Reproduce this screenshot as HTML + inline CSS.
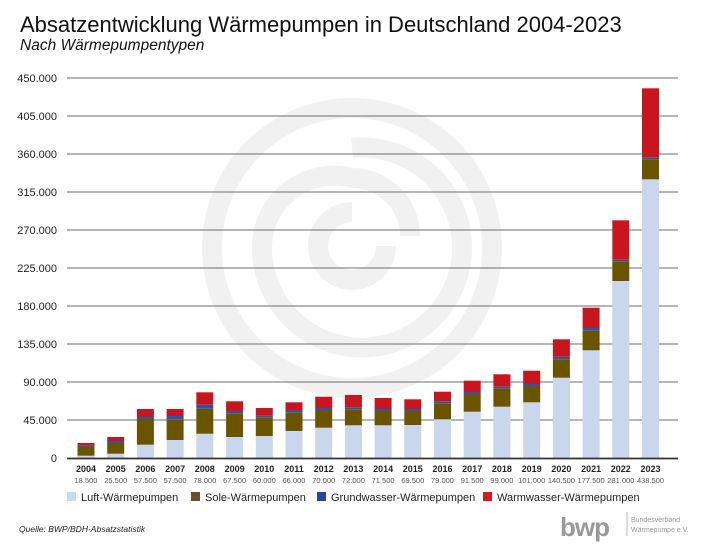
<!DOCTYPE html>
<html><head><meta charset="utf-8"><style>
body{margin:0;background:#fff}
svg{display:block;font-family:"Liberation Sans",sans-serif}
</style></head><body>
<svg id="s" width="705" height="546" viewBox="0 0 705 546" xmlns="http://www.w3.org/2000/svg">
<rect width="705" height="546" fill="#fff"/>
<g fill="none" stroke="#f1f1f1" stroke-width="20">
<circle cx="352" cy="248" r="140"/>
<path d="M352 148 A100 100 0 1 1 262 250 A72 72 0 0 1 352 178 A58 58 0 0 1 410 236"/>
<path d="M352 212 A34 34 0 1 0 386 246"/>
</g>
<text x="20" y="32" font-size="22" fill="#111">Absatzentwicklung Wärmepumpen in Deutschland 2004-2023</text>
<text x="20" y="50" font-size="15.5" font-style="italic" fill="#111">Nach Wärmepumpentypen</text>
<g stroke="#8a8a8a" stroke-width="1.3">
<line x1="67" x2="678" y1="78" y2="78"/><line x1="67" x2="678" y1="116" y2="116"/><line x1="67" x2="678" y1="154" y2="154"/><line x1="67" x2="678" y1="192" y2="192"/><line x1="67" x2="678" y1="230" y2="230"/><line x1="67" x2="678" y1="268" y2="268"/><line x1="67" x2="678" y1="306" y2="306"/><line x1="67" x2="678" y1="344" y2="344"/><line x1="67" x2="678" y1="382" y2="382"/><line x1="67" x2="678" y1="420" y2="420"/>
</g>
<g font-size="11" fill="#222" text-anchor="end">
<text x="57" y="82">450.000</text><text x="57" y="120">405.000</text><text x="57" y="158">360.000</text><text x="57" y="196">315.000</text><text x="57" y="234">270.000</text><text x="57" y="272">225.000</text><text x="57" y="310">180.000</text><text x="57" y="348">135.000</text><text x="57" y="386">90.000</text><text x="57" y="424">45.000</text><text x="57" y="462">0</text>
</g>
<g id="bars"></g>
<line x1="67" x2="678" y1="458.5" y2="458.5" stroke="#333" stroke-width="1.8"/>
<g font-size="9" fill="#222" text-anchor="middle" font-weight="bold" id="yrs"></g>
<g font-size="7.5" fill="#555" text-anchor="middle" id="tot"></g>
<g font-size="11" fill="#222">
<rect x="67" y="492" width="9" height="9" fill="#c6dcf3"/><text x="81" y="501">Luft-Wärmepumpen</text>
<rect x="191" y="492" width="9" height="9" fill="#6b4e2e"/><text x="205" y="501">Sole-Wärmepumpen</text>
<rect x="317" y="492" width="9" height="9" fill="#2845a0"/><text x="331" y="501">Grundwasser-Wärmepumpen</text>
<rect x="483" y="492" width="9" height="9" fill="#d81a22"/><text x="497" y="501">Warmwasser-Wärmepumpen</text>
</g>
<text x="19" y="532" font-size="8.5" font-style="italic" fill="#222">Quelle: BWP/BDH-Absatzstatistik</text>
<text x="560" y="536" font-size="26" font-weight="bold" fill="#999" letter-spacing="-1">bwp</text>
<line x1="627" y1="512" x2="627" y2="536" stroke="#bbb"/>
<text x="631" y="522" font-size="7" fill="#999">Bundesverband</text>
<text x="631" y="532" font-size="7" fill="#999">Wärmepumpe e.V.</text>
</svg>
<script>
var d=[[2004,"18.500",455.7,447,445.7,443],[2005,"25.500",453.7,443,441,437],[2006,"57.500",444.7,419,417,409],[2007,"57.500",440,419.3,416,409],[2008,"78.000",433.7,408.7,404.7,392.3],[2009,"67.500",437,413.3,411,401.3],[2010,"60.000",436,417.3,415.7,408],[2011,"66.000",431,412.3,410,402.3],[2012,"70.000",427.7,410,408,396.7],[2013,"72.000",425.3,409.3,407.3,395],[2014,"71.500",425.3,411,409,398],[2015,"69.500",425,411,409,399.3],[2016,"79.000",419.3,403.3,401.3,391.7],[2017,"91.500",411.7,394,392,380.7],[2018,"99.000",406.7,388.7,386.7,374.3],[2019,"101.000",402.3,386,384,370.7],[2020,"140.500",377.7,359.3,356.7,339.3],[2021,"177.500",350.3,330.7,328,307.7],[2022,"281.000",281,261.3,259.7,220.3],[2023,"438.500",179.3,159.3,157.3,88.3]];
var b="",y="",t="",base=458;
d.forEach(function(r,i){var cx=86+i*29.71,x=(cx-8.5).toFixed(1);
var cols=["#c9d6ec","#6b5400","#3052a8","#c8161e"],prev=base;
for(var k=0;k<4;k++){var top=r[2+k];b+='<rect x="'+x+'" y="'+top+'" width="17" height="'+(prev-top).toFixed(1)+'" fill="'+cols[k]+'"/>';prev=top;}
y+='<text x="'+cx.toFixed(1)+'" y="472">'+r[0]+'</text>';
t+='<text x="'+cx.toFixed(1)+'" y="483">'+r[1]+'</text>';});
document.getElementById("bars").innerHTML=b;
document.getElementById("yrs").innerHTML=y;
document.getElementById("tot").innerHTML=t;
</script>
</body></html>
